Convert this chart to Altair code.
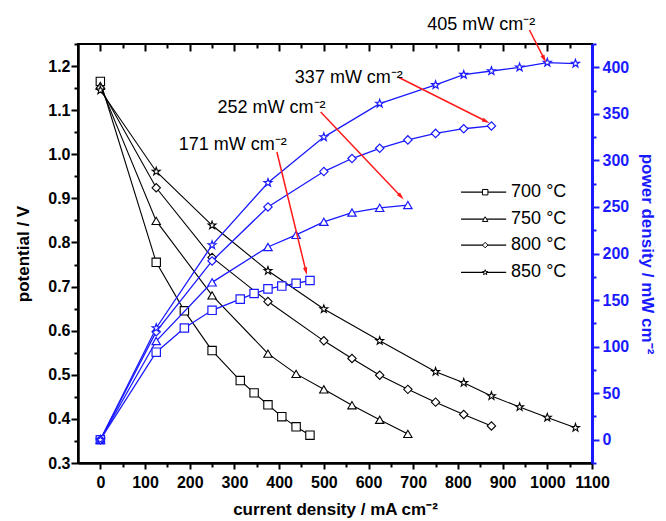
import math
import altair as alt
import pandas as pd

# ---------------- data ----------------
temps = ["700", "750", "800", "850"]
legend_labels = ["700 °C", "750 °C", "800 °C", "850 °C"]

i_700 = [0, 125, 188, 250, 313, 344, 375, 406, 438, 469]
v_700 = [1.165, 0.755, 0.645, 0.555, 0.487, 0.459, 0.432, 0.405, 0.382, 0.363]
p_700 = [0, 94, 120, 139, 151, 157, 162, 165, 168, 171]

i_750 = [0, 125, 250, 375, 438, 500, 563, 625, 688]
v_750 = [1.155, 0.849, 0.680, 0.548, 0.502, 0.467, 0.431, 0.398, 0.366]
p_750 = [0, 106, 169, 207, 220, 234, 244, 249, 252]

i_800 = [0, 125, 250, 375, 500, 563, 625, 688, 750, 813, 875]
v_800 = [1.150, 0.924, 0.766, 0.666, 0.577, 0.537, 0.499, 0.467, 0.438, 0.410, 0.384]
p_800 = [0, 116, 192, 250, 288, 302, 313, 322, 329, 334, 337]

i_850 = [0, 125, 250, 375, 500, 625, 750, 813, 875, 938, 1000, 1063]
v_850 = [1.145, 0.961, 0.839, 0.736, 0.649, 0.577, 0.507, 0.482, 0.452, 0.427, 0.403, 0.380]
p_850 = [0, 120, 209, 276, 325, 361, 381, 392, 396, 400, 405, 404]

# annotations (x in mA cm-2, y in mW cm-2)
ann_text = ["405 mW cm⁻²", "337 mW cm⁻²", "252 mW cm⁻²", "171 mW cm⁻²"]
ann_tx = [852, 556, 383, 296]
ann_ty = [445, 389, 356, 316]
arr_x1 = [960, 668, 493, 395]
arr_y1 = [440, 389, 352, 309]
arr_x2 = [993, 863, 673, 460]
arr_y2 = [409, 342, 261, 181]

# legend position (x in mA cm-2, y in V)
leg_y = [0.914, 0.853, 0.794, 0.732]
leg_x1, leg_xm, leg_x2, leg_xt = 807, 861, 908, 919

# ---------------- styling ----------------
W, H = 514, 419
X_DOM = [-50, 1100]
V_DOM = [0.3, 1.25]
P_DOM = [-25, 425]
BLUE = "#1a1aff"
FONT = "Liberation Sans"

rows = []
for t, ii, vv, pp in zip(temps, [i_700, i_750, i_800, i_850],
                         [v_700, v_750, v_800, v_850],
                         [p_700, p_750, p_800, p_850]):
    for a, b, c in zip(ii, vv, pp):
        rows.append({"T": t, "i": a, "V": b, "P": c})
df = pd.DataFrame(rows)

leg = pd.DataFrame({"T": temps, "label": legend_labels, "y": leg_y,
                    "x1": [leg_x1] * 4, "xm": [leg_xm] * 4,
                    "x2": [leg_x2] * 4, "xt": [leg_xt] * 4})

# arrowhead angle in pixel space
sx = W / (X_DOM[1] - X_DOM[0])
sy = H / (P_DOM[1] - P_DOM[0])
angles = []
for a, b, c, d in zip(arr_x1, arr_y1, arr_x2, arr_y2):
    dx = (c - a) * sx
    dy = -(d - b) * sy
    angles.append(math.degrees(math.atan2(dx, -dy)) % 360)
ann = pd.DataFrame({"text": ann_text, "tx": ann_tx, "ty": ann_ty,
                    "x1": arr_x1, "y1": arr_y1, "x2": arr_x2, "y2": arr_y2,
                    "ang": angles})

star = ("M0,-1L0.235,-0.324L0.951,-0.309L0.38,0.124L0.588,0.809L0,0.4"
        "L-0.588,0.809L-0.38,0.124L-0.951,-0.309L-0.235,-0.324Z")
shape_scale = alt.Scale(domain=temps, range=["square", "triangle-up", "diamond", star])
arrow_head = "M0,-1L0.55,1L-0.55,1Z"

xs = alt.Scale(domain=X_DOM, nice=False, zero=False)
vs = alt.Scale(domain=V_DOM, nice=False, zero=False)
ps = alt.Scale(domain=P_DOM, nice=False, zero=False)

common = dict(labelFont=FONT, labelFontWeight="bold", labelFontSize=16,
              titleFont=FONT, titleFontWeight="bold", titleFontSize=17,
              grid=False, tickWidth=2, offset=0, labelFlush=False,
              labelOverlap=False, labelBound=False)

x_axis = alt.Axis(values=list(range(0, 1101, 100)), format="d", orient="bottom",
                  tickSize=6, title="current density / mA cm⁻²", labelPadding=5,
                  titlePadding=11, domainWidth=2.5,
                  domainColor="black", tickColor="black", labelColor="black",
                  titleColor="black", **common)
v_axis = alt.Axis(values=[round(0.3 + 0.1 * k, 1) for k in range(10)], format=".1f",
                  orient="left", tickSize=7, title="potential / V", labelPadding=1,
                  titlePadding=15, domainWidth=2.5,
                  domainColor="black", tickColor="black", labelColor="black",
                  titleColor="black", **common)
p_axis = alt.Axis(values=list(range(0, 401, 50)), format="d", orient="right",
                  tickSize=7, title="power density / mW cm⁻²", labelPadding=3,
                  titlePadding=9, domainWidth=3,
                  domainColor=BLUE, tickColor=BLUE, labelColor=BLUE, titleColor=BLUE,
                  **common)


def tick_axis(orient, vals, color, size, offset=0):
    return alt.Axis(values=vals, orient=orient, labels=False, domain=False,
                    ticks=True, tickSize=size, offset=offset, tickWidth=2,
                    tickColor=color, title=None, grid=False)


# ---------------- data layers (no axes) ----------------
NX = alt.X("i:Q", scale=xs, axis=None)

pot_line = alt.Chart(df).mark_line(color="black", strokeWidth=1.1).encode(
    x=NX, y=alt.Y("V:Q", scale=vs, axis=None), detail="T:N", order="i:Q")
pot_pts = alt.Chart(df).mark_point(filled=True, fill="white", stroke="black",
                                   strokeWidth=1.1, opacity=1, size=70).encode(
    x=NX, y=alt.Y("V:Q", scale=vs, axis=None),
    shape=alt.Shape("T:N", scale=shape_scale, legend=None))
leg_rule = alt.Chart(leg).mark_rule(color="black", strokeWidth=1.3).encode(
    x=alt.X("x1:Q", scale=xs, axis=None), x2="x2:Q",
    y=alt.Y("y:Q", scale=vs, axis=None))
leg_pts = alt.Chart(leg).mark_point(filled=True, fill="white", stroke="black",
                                    strokeWidth=1, opacity=1, size=30).encode(
    x=alt.X("xm:Q", scale=xs, axis=None),
    y=alt.Y("y:Q", scale=vs, axis=None),
    shape=alt.Shape("T:N", scale=shape_scale, legend=None))
leg_txt = alt.Chart(leg).mark_text(align="left", baseline="middle", font=FONT,
                                   fontSize=18, color="black").encode(
    x=alt.X("xt:Q", scale=xs, axis=None),
    y=alt.Y("y:Q", scale=vs, axis=None),
    text="label:N")
left = alt.layer(pot_line, pot_pts, leg_rule, leg_pts, leg_txt)

pow_line = alt.Chart(df).mark_line(color=BLUE, strokeWidth=1.3).encode(
    x=NX, y=alt.Y("P:Q", scale=ps, axis=None), detail="T:N", order="i:Q")
pow_pts = alt.Chart(df).mark_point(filled=True, fill="white", stroke=BLUE,
                                   strokeWidth=1.2, opacity=1, size=70).encode(
    x=NX, y=alt.Y("P:Q", scale=ps, axis=None),
    shape=alt.Shape("T:N", scale=shape_scale, legend=None))
arrows = alt.Chart(ann).mark_rule(color="#ff1a1a", strokeWidth=1.5).encode(
    x=alt.X("x1:Q", scale=xs, axis=None), x2="x2:Q",
    y=alt.Y("y1:Q", scale=ps, axis=None), y2="y2:Q")
heads = alt.Chart(ann).mark_point(shape=arrow_head, filled=True, color="#ff1a1a",
                                  opacity=1, size=60).encode(
    x=alt.X("x2:Q", scale=xs, axis=None),
    y=alt.Y("y2:Q", scale=ps, axis=None),
    angle=alt.Angle("ang:Q", scale=None))
ann_txt = alt.Chart(ann).mark_text(align="center", baseline="middle", font=FONT,
                                   fontSize=18, color="black").encode(
    x=alt.X("tx:Q", scale=xs, axis=None),
    y=alt.Y("ty:Q", scale=ps, axis=None),
    text="text:N")
right = alt.layer(pow_line, pow_pts, arrows, heads, ann_txt)

# ---------------- axis-only layers ----------------
ax_main_v = alt.Chart(df).mark_point(opacity=0).encode(
    x=alt.X("i:Q", scale=xs, axis=x_axis),
    y=alt.Y("V:Q", scale=vs, axis=v_axis))
ax_main_p = alt.Chart(df).mark_point(opacity=0).encode(
    x=alt.X("i:Q", scale=xs,
            axis=tick_axis("top", list(range(0, 1101, 100)), "black", 7, -7)),
    y=alt.Y("P:Q", scale=ps, axis=p_axis))
minor_a = alt.Chart(df).mark_point(opacity=0).encode(
    x=alt.X("i:Q", scale=xs,
            axis=tick_axis("top", list(range(50, 1101, 100)), "black", 4, -4)),
    y=alt.Y("V:Q", scale=vs,
            axis=tick_axis("left", [round(0.35 + 0.1 * k, 2) for k in range(10)], "black", 4)))
minor_b = alt.Chart(df).mark_point(opacity=0).encode(
    x=alt.X("i:Q", scale=xs,
            axis=tick_axis("bottom", list(range(50, 1101, 100)), "black", 4)),
    y=alt.Y("P:Q", scale=ps,
            axis=tick_axis("right", list(range(-25, 426, 50)), BLUE, 4)))

chart = alt.layer(left, right, ax_main_v, ax_main_p, minor_a, minor_b).resolve_scale(
    y="independent").resolve_axis(x="independent", y="independent").properties(
    width=W, height=H,
    autosize=alt.AutoSizeParams(type="none"),
    padding={"left": 70, "top": 36, "right": 66, "bottom": 58},
).configure_view(stroke="black", strokeWidth=2)

chart.save("out.html", embed_options={"renderer": "svg", "actions": False})
